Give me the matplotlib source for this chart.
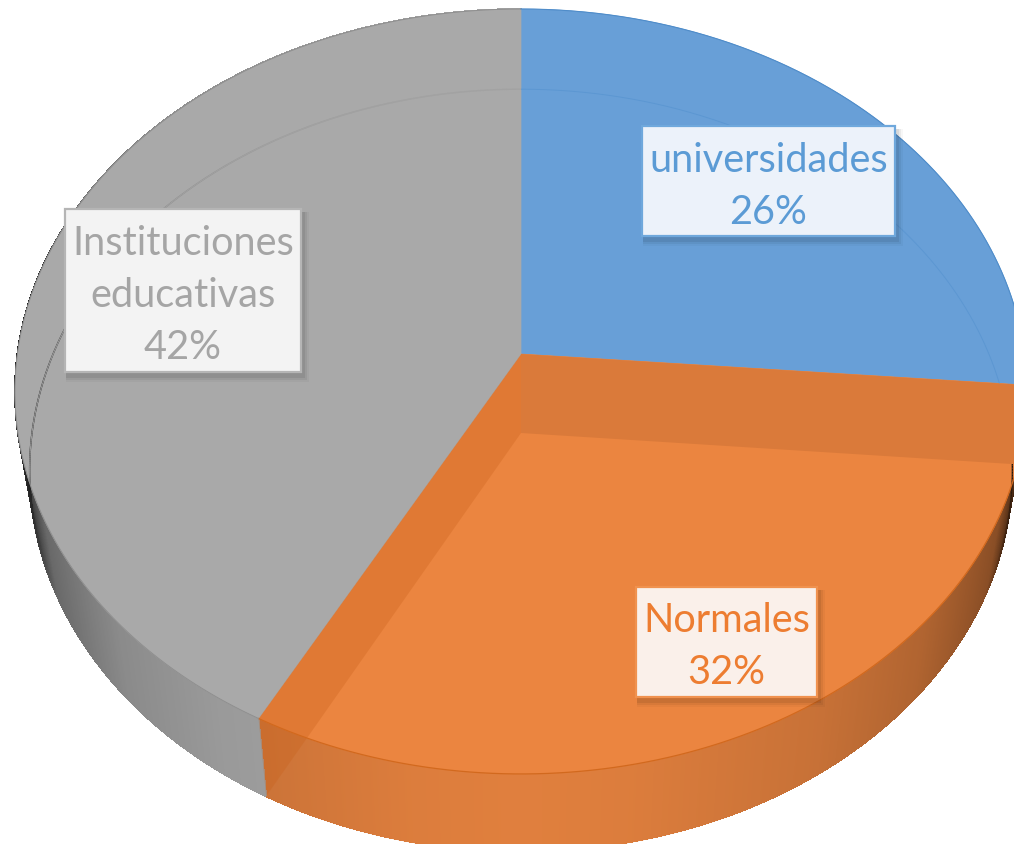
"""
3D style pie chart: instituciones formadoras.
"""

import matplotlib

matplotlib.use("Agg")

import matplotlib.pyplot as plt
import numpy as np
from matplotlib.collections import LineCollection, PolyCollection
from matplotlib.colors import to_rgb
from matplotlib.patches import Polygon, Rectangle


CATEGORIES = ["universidades", "Normales", "Instituciones\neducativas"]
SHARES = [26.3, 31.6, 42.1]
PERCENT_LABELS = ["26%", "32%", "42%"]

FACE_COLORS = ["#689FD7", "#EB8540", "#A9A9A9"]
TEXT_COLORS = ["#5B9BD5", "#ED7D31", "#A5A5A5"]
BOX_FILLS = ["#ECF2FA", "#FAF0EA", "#F3F3F3"]
BOX_EDGES = ["#6FA8DC", "#F0924F", "#B5B5B5"]

# label boxes as left, top, right, bottom in pixels
BOXES = [(642, 127, 895, 237), (636, 588, 817, 698), (65, 210, 301, 373)]

TOP_DISC = (521.0, 355.0, 503.6, 378.8)
BOTTOM_DISC = (521.0, 434.0, 489.0, 377.5)
PERSPECTIVE = 0.098

SHADE_X = [0.0, 0.2, 0.55, 0.75, 0.91, 0.96, 1.0]
SHADE_ORANGE = [0.98, 0.96, 0.87, 0.77, 0.60, 0.30, 0.15]
SHADE_GREY = [0.98, 0.97, 0.91, 0.82, 0.62, 0.35, 0.15]


def rim(disc, angles):
    """Project clockwise angles from 12 o'clock onto a tilted disc."""
    cx, cy, a, b = disc
    w = 1 + PERSPECTIVE * np.cos(angles)
    return np.column_stack(
        (cx + a * np.sin(angles) / w, cy - b * np.cos(angles) / w)
    )


def draw_wall(ax, start, end, color, shades):
    """Draw the outer side of a slice as thin shaded strips."""
    angles = np.linspace(start, end, 500)
    top = rim(TOP_DISC, angles)
    bottom = rim(BOTTOM_DISC, angles)
    quads = []
    colors = []
    segments = []
    base = np.array(to_rgb(color))
    for i in range(len(angles) - 1):
        quads.append([top[i], top[i + 1], bottom[i + 1], bottom[i]])
        segments.append([bottom[i], bottom[i + 1]])
        shade = np.interp(abs(np.sin(angles[i])), SHADE_X, shades)
        colors.append(tuple(base * shade))
    ax.add_collection(
        PolyCollection(
            quads,
            facecolors=colors,
            edgecolors=colors,
            linewidths=0.6,
            antialiaseds=False,
        )
    )
    ax.add_collection(LineCollection(segments, colors=colors, linewidths=1.0))


def draw_label(ax, box, text, fill, edge, color):
    """Draw a data label with its soft shadow."""
    left, top, right, bottom = box
    for grow, alpha in ((7, 0.03), (5, 0.05), (3, 0.07)):
        ax.add_patch(
            Rectangle(
                (left + 1, top + 3),
                right - left + grow,
                bottom - top + grow,
                facecolor="black",
                alpha=alpha,
                linewidth=0,
                zorder=5,
            )
        )
    ax.add_patch(
        Rectangle(
            (left, top),
            right - left,
            bottom - top,
            facecolor=fill,
            edgecolor=edge,
            linewidth=1.6,
            zorder=6,
        )
    )
    ax.text(
        (left + right) / 2,
        (top + bottom) / 2 + 4,
        text,
        color=color,
        fontsize=28.6,
        family="Lato",
        ha="center",
        va="center",
        linespacing=1.5,
        zorder=7,
    )


def main() -> None:
    """
    Build the chart and save it.
    """

    fig = plt.figure(figsize=(10.14, 8.45), dpi=100)
    ax = fig.add_axes([0, 0, 1, 1])
    ax.set_xlim(0, 1014)
    ax.set_ylim(845, 0)
    ax.axis("off")

    edges = np.concatenate(([0.0], np.cumsum(SHARES))) / sum(SHARES) * 2 * np.pi

    draw_wall(ax, edges[1], edges[2], "#E5823F", SHADE_ORANGE)
    draw_wall(ax, edges[2], edges[3], "#A9A9A9", SHADE_GREY)

    apex_top = np.array(TOP_DISC[:2])
    apex_bottom = np.array(BOTTOM_DISC[:2])

    faces = []
    for i, color in enumerate(FACE_COLORS):
        angles = np.linspace(edges[i], edges[i + 1], 300)
        points = np.vstack((apex_top, rim(TOP_DISC, angles)))
        face = Polygon(points, facecolor=color, edgecolor=color, linewidth=0.5)
        ax.add_patch(face)
        faces.append(face)

    # faint outline of the lower disc seen through the top
    for i, color in ((0, "#5C97D2"), (2, "#A2A2A2")):
        angles = np.linspace(edges[i], edges[i + 1], 300)
        points = rim(BOTTOM_DISC, angles)
        line, = ax.plot(points[:, 0], points[:, 1], color=color, linewidth=0.7)
        line.set_clip_path(faces[i])

    # inner faces of the orange slice
    blue_edge = np.array([edges[1]])
    grey_edge = np.array([edges[2]])
    blue_foot = apex_bottom + (rim(BOTTOM_DISC, blue_edge)[0] - apex_bottom) * 1.04
    right_band = np.vstack(
        (apex_top, rim(TOP_DISC, blue_edge), blue_foot, apex_bottom)
    )
    left_band = np.vstack(
        (apex_top, rim(TOP_DISC, grey_edge), rim(BOTTOM_DISC, grey_edge), apex_bottom)
    )
    ax.add_patch(Polygon(right_band, facecolor="#DA7A3A", edgecolor="none"))
    ax.add_patch(Polygon(left_band, facecolor="#C8601A", alpha=0.3, edgecolor="none"))

    # rim lines of the top disc
    angles = np.linspace(edges[1], edges[2], 300)
    points = rim(TOP_DISC, angles)
    ax.plot(points[:, 0], points[:, 1], color="#D2691E", linewidth=0.9)
    angles = np.linspace(edges[2], edges[3], 300)
    points = rim(TOP_DISC, angles)
    ax.plot(points[:, 0], points[:, 1], color="#8F8F8F", linewidth=0.7)
    angles = np.linspace(edges[0], edges[1], 300)
    points = rim(TOP_DISC, angles)
    ax.plot(points[:, 0], points[:, 1], color="#4F8CC9", linewidth=0.8)

    for i, category in enumerate(CATEGORIES):
        draw_label(
            ax,
            BOXES[i],
            category + "\n" + PERCENT_LABELS[i],
            BOX_FILLS[i],
            BOX_EDGES[i],
            TEXT_COLORS[i],
        )

    fig.savefig("out.png", dpi=100, facecolor="white")


if __name__ == "__main__":
    main()
